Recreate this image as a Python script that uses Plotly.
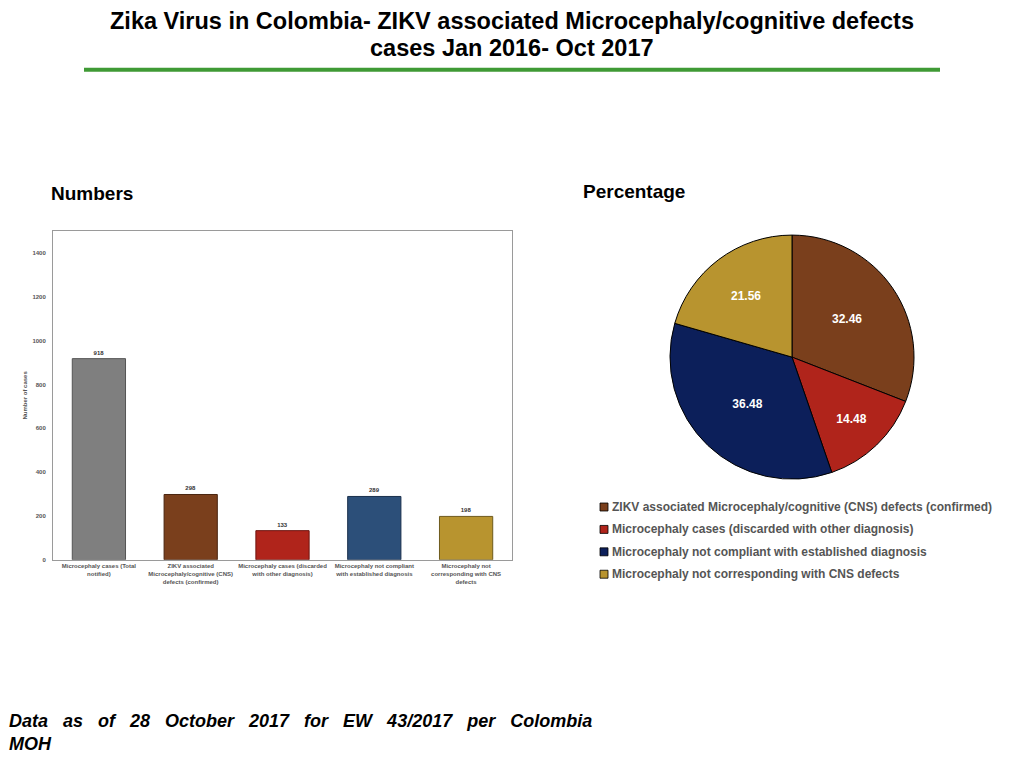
import plotly.graph_objects as go

# bar chart data
bar_categories = [
    "Microcephaly cases (Total<br>notified)",
    "ZIKV associated<br>Microcephaly/cognitive (CNS)<br>defects (confirmed)",
    "Microcephaly cases (discarded<br>with other diagnosis)",
    "Microcephaly not compliant<br>with established diagnosis",
    "Microcephaly not<br>corresponding with CNS<br>defects",
]
bar_values = [918, 298, 133, 289, 198]
bar_colors = ["#7f7f7f", "#7a3f1c", "#b0241b", "#2c4f79", "#b8942f"]
bar_lines = ["#555555", "#4a2510", "#6e130e", "#1a304c", "#6e5a1c"]

# pie chart data
pie_labels = [
    "ZIKV associated Microcephaly/cognitive (CNS) defects (confirmed)",
    "Microcephaly cases (discarded with other diagnosis)",
    "Microcephaly not compliant with established diagnosis",
    "Microcephaly not corresponding with CNS defects",
]
pie_values = [32.46, 14.48, 36.48, 21.56]
pie_colors = ["#7a3f1c", "#b0241b", "#0c1f5a", "#b8942f"]

# page body adds an 8px margin, so the figure is a bit smaller than the window
OFF = 8
W, H = 1008, 752


def px_x(x):
    return (x - OFF) / W


def px_y(y):
    return 1 - (y - OFF) / H


fig = go.Figure()

fig.add_trace(go.Bar(
    x=bar_categories, y=bar_values,
    marker=dict(color=bar_colors, line=dict(color=bar_lines, width=1)),
    width=0.58,
    text=[str(v) for v in bar_values], textposition="outside",
    textfont=dict(size=6, color="#333333", weight="bold"),
    cliponaxis=False, showlegend=False,
))

fig.add_trace(go.Pie(
    labels=pie_labels, values=pie_values,
    text=[f"{v:.2f}" for v in pie_values], textinfo="text",
    textfont=dict(size=12, color="white", weight="bold"),
    marker=dict(colors=pie_colors, line=dict(color="black", width=1)),
    sort=False, direction="clockwise", rotation=0,
    domain=dict(x=[px_x(669), px_x(915)], y=[px_y(481), px_y(236)]),
    hoverinfo="label+value", showlegend=False,
))

fig.update_layout(
    width=W, height=H,
    margin=dict(l=0, r=0, t=0, b=0),
    paper_bgcolor="white", plot_bgcolor="white",
    font=dict(family="Liberation Sans"),
    xaxis=dict(
        domain=[px_x(53), px_x(512)],
        showline=True, linecolor="#9a9a9a", linewidth=1, mirror=True,
        showgrid=False, ticks="",
        tickfont=dict(size=6, color="#555555", weight="bold"),
    ),
    yaxis=dict(
        domain=[px_y(562), px_y(232)],
        range=[0, 1500], tickvals=[0, 200, 400, 600, 800, 1000, 1200, 1400],
        showline=True, linecolor="#9a9a9a", linewidth=1, mirror=True,
        showgrid=False, zeroline=False, ticks="", ticklabelstandoff=5,
        tickfont=dict(size=6, color="#555555", weight="bold"),
        title=dict(text="Number of cases", font=dict(size=6, color="#555555", weight="bold"), standoff=4),
    ),
)

# legend for the pie, drawn by hand (small squares right next to the text)
for i, (lab, col) in enumerate(zip(pie_labels, pie_colors)):
    yc = 509 + i * 22.5
    fig.add_shape(type="rect", xref="paper", yref="paper",
                  x0=px_x(600), x1=px_x(608), y0=px_y(yc + 4), y1=px_y(yc - 4),
                  fillcolor=col, line=dict(color="black", width=0.8))
    fig.add_annotation(text=lab, x=px_x(610), y=px_y(yc), xref="paper", yref="paper",
                       xanchor="left", yanchor="middle", showarrow=False,
                       font=dict(size=12, color="#555555", weight="bold"))

# header text and green rule
title_lines = ["Zika Virus in Colombia- ZIKV associated Microcephaly/cognitive defects",
               "cases Jan 2016- Oct 2017"]
for i, line in enumerate(title_lines):
    fig.add_annotation(
        text=f"<b>{line}</b>",
        x=px_x(512), y=px_y(21 + i * 27), xref="paper", yref="paper", xanchor="center", yanchor="middle",
        showarrow=False, font=dict(size=23.5, color="black"),
    )
fig.add_shape(type="line", xref="paper", yref="paper",
              x0=px_x(84), x1=px_x(940), y0=px_y(70), y1=px_y(70),
              line=dict(color="#3f9a35", width=4))

fig.add_annotation(text="<b>Numbers</b>", x=px_x(49), y=px_y(194), xref="paper", yref="paper",
                   xanchor="left", yanchor="middle", showarrow=False,
                   font=dict(size=19, color="black"))
fig.add_annotation(text="<b>Percentage</b>", x=px_x(581), y=px_y(192), xref="paper", yref="paper",
                   xanchor="left", yanchor="middle", showarrow=False,
                   font=dict(size=19, color="black"))

gap = " &nbsp;&nbsp;"
footer = gap.join(["Data", "as", "of", "28", "October", "2017", "for", "EW", "43/2017", "per", "Colombia"])
fig.add_annotation(
    text=f"<b><i>{footer}<br>MOH</i></b>",
    x=px_x(7), y=px_y(735), xref="paper", yref="paper", xanchor="left", yanchor="middle",
    showarrow=False, align="left",
    font=dict(size=18, color="black"),
)

fig.write_html("out.html")
